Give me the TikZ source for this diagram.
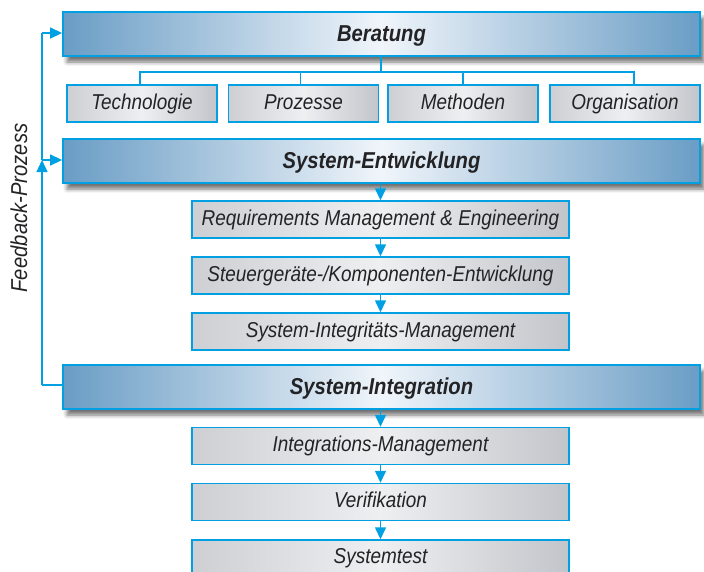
\documentclass[tikz,border=0pt]{standalone}
\usepackage{fontspec}
\setmainfont{Liberation Sans}[FakeStretch=0.88]
\usetikzlibrary{arrows.meta,shadows.blur,calc}
\definecolor{cyanline}{RGB}{0,160,226}
\definecolor{bardark}{RGB}{106,157,197}
\definecolor{barlight}{RGB}{240,245,250}
\definecolor{boxleft}{RGB}{205,207,211}
\definecolor{boxmid}{RGB}{238,239,241}
\definecolor{boxright}{RGB}{194,197,202}
\definecolor{txt}{RGB}{35,35,38}
\tikzset{
  bar/.style={draw=cyanline, line width=1.8pt, minimum width=637pt, minimum height=44pt,
    inner sep=0pt, shading=axis, left color=bardark, right color=bardark, middle color=barlight,
    blur shadow={shadow xshift=4pt, shadow yshift=-6pt, shadow blur radius=4pt, shadow opacity=55},
    text height=17pt, text depth=3pt,
    text=txt, font=\fontsize{23}{26}\selectfont\bfseries\itshape},
  subbox/.style={draw=cyanline, line width=1.4pt, minimum height=37pt, inner sep=0pt,
    shading=axis, left color=boxleft, right color=boxright, middle color=boxmid,
    text height=15.5pt, text depth=4.5pt,
    text=txt, font=\fontsize{21.5}{24}\selectfont\itshape},
  rowbox/.style={subbox, minimum width=150pt},
  colbox/.style={subbox, minimum width=377pt},
  conn/.style={draw=cyanline, line width=1.4pt},
  arr/.style={conn, -{Triangle[width=11pt,length=12pt]}},
}
\begin{document}
\begin{tikzpicture}[x=1pt,y=-1pt]
\useasboundingbox (0,0) rectangle (704,571);
% main bars
\node[bar] (ber) at (381.5,34) {Beratung};
\node[bar] (sysent) at (381.5,161) {System-Entwicklung};
\node[bar] (sysint) at (381.5,387) {System-Integration};
% row boxes
\node[rowbox] (tech) at (142,103.5) {Technologie};
\node[rowbox] (proz) at (303.5,103.5) {Prozesse};
\node[rowbox] (meth) at (463,103.5) {Methoden};
\node[rowbox] (org) at (625,103.5) {Organisation};
% column boxes
\node[colbox] (req) at (380.5,219.5) {Requirements Management \& Engineering};
\node[colbox] (steu) at (380.5,275.5) {Steuergeräte-/Komponenten-Entwicklung};
\node[colbox] (sii) at (380.5,331.5) {System-Integritäts-Management};
\node[colbox] (im) at (380.5,446) {Integrations-Management};
\node[colbox] (ver) at (380.5,502) {Verifikation};
\node[colbox, minimum height=36pt] (st) at (380.5,558) {Systemtest};
% bracket
\coordinate (br) at (381,72);
\draw[conn] (ber.south -| br) -- (br);
\draw[conn] ([xshift=-2pt]tech.north) |- (br);
\draw[conn] ([xshift=9pt]org.north) |- (br);
\draw[conn] ([xshift=-3pt]proz.north) -- ([xshift=-3pt]proz.north |- br);
\draw[conn] (meth.north) -- (meth.north |- br);
% arrows down
\draw[arr] (req.north |- sysent.south) -- (req.north);
\draw[arr] (req.south) -- (steu.north);
\draw[arr] (steu.south) -- (sii.north);
\draw[arr] (im.north |- sysint.south) -- (im.north);
\draw[arr] (im.south) -- (ver.north);
\draw[arr] (ver.south) -- (st.north);
% feedback
\coordinate (fbB) at (42,385);
\coordinate (fbM) at (42,160);
\coordinate (fbT) at (42,33);
\draw[conn] ([yshift=2pt]sysint.west) -- (fbB);
\draw[arr] (fbB) -- (fbM);
\draw[arr] (fbM) -- (sysent.west |- fbM);
\draw[conn] (fbM) -- (fbT);
\draw[arr] (fbT) -- (ber.west |- fbT);
\node[rotate=90, text=txt, font=\fontsize{23}{26}\selectfont\itshape] (fblabel) at (19,208) {Feedback-Prozess};
\end{tikzpicture}
\end{document}
